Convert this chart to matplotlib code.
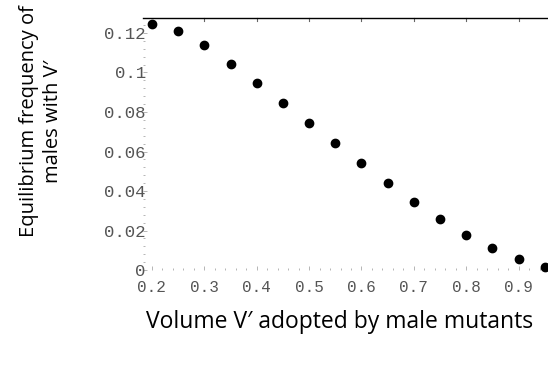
import matplotlib.pyplot as plt
import numpy as np
from matplotlib.ticker import MultipleLocator

# volume V' of male mutants and equilibrium frequency
volume = [0.20, 0.25, 0.30, 0.35, 0.40, 0.45, 0.50, 0.55,
          0.60, 0.65, 0.70, 0.75, 0.80, 0.85, 0.90, 0.95]
freq = [0.1246, 0.1210, 0.1140, 0.1043, 0.0947, 0.0846, 0.0744, 0.0643,
        0.0542, 0.0440, 0.0344, 0.0258, 0.0177, 0.0111, 0.0056, 0.0015]

xticks = [0.2, 0.3, 0.4, 0.5, 0.6, 0.7, 0.8, 0.9]
xlabels = ["0.2", "0.3", "0.4", "0.5", "0.6", "0.7", "0.8", "0.9"]
yticks = [0, 0.02, 0.04, 0.06, 0.08, 0.1, 0.12]
ylabels = ["0", "0.02", "0.04", "0.06", "0.08", "0.1", "0.12"]

fig = plt.figure(figsize=(5.48, 3.65), dpi=100)
ax = fig.add_axes([0.261, 0.260, 0.739, 0.691])

ax.plot(volume, freq, 'o', color='black', ms=6, clip_on=False, zorder=5)

ax.set_xlim(0.183, 0.956)
ax.set_ylim(0, 0.1276)

mono = 'Liberation Mono'
ax.set_xticks(xticks)
ax.set_xticklabels(xlabels, family=mono, fontsize=11.5, color='#555555')
ax.set_yticks(yticks)
ax.set_yticklabels(ylabels, family=mono, fontsize=12.5, color='#555555')
ax.xaxis.set_minor_locator(MultipleLocator(0.02))
ax.yaxis.set_minor_locator(MultipleLocator(0.004))
ax.tick_params(which='both', direction='in', color='#aaaaaa', width=0.6)
ax.tick_params(which='major', length=3)
ax.tick_params(axis='x', which='major', pad=7)
ax.tick_params(axis='y', which='major', pad=-2)
ax.tick_params(which='minor', length=1.5)

ax.spines['right'].set_visible(False)
ax.spines['top'].set_color('black')
ax.spines['top'].set_linewidth(1.0)
for s in ['left', 'bottom']:
    ax.spines[s].set_visible(False)

# tick marks on the top line
for x in xticks[1:]:
    ax.plot([x, x], [0.1276, 0.1262], color='#666666', lw=0.8, clip_on=False)

fig.text(0.075, 0.668, "Equilibrium frequency of\nmales with V\u2032", rotation=90,
         ha='center', va='center', family='Open Sans', fontsize=14.5,
         linespacing=1.3)
fig.text(0.619, 0.118, "Volume V\u2032 adopted by male mutants", ha='center',
         va='center', family='Open Sans', fontsize=16.5)

fig.savefig('out.png', dpi=100)
